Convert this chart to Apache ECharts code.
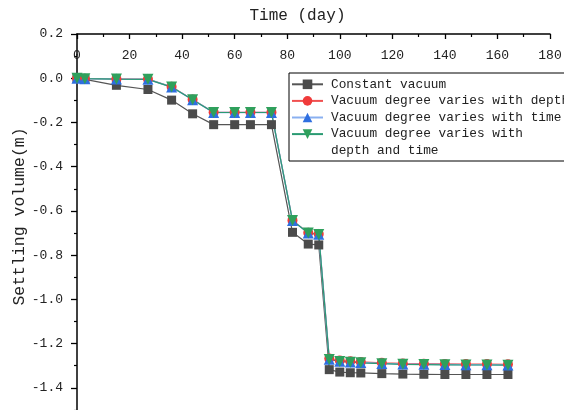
<!DOCTYPE html>
<html>
<head>
<meta charset="utf-8">
<script src="https://cdn.jsdelivr.net/npm/echarts@6/dist/echarts.min.js"></script>
<style>
  html, body { margin: 0; padding: 0; background: #fff; }
  #chart { width: 564px; height: 410px; }
</style>
</head>
<body>
<div id="chart"></div>
<script>
// time (day)
const days = [0, 3, 15, 27, 36, 44, 52, 60, 66, 74, 82, 88, 92, 96, 100, 104, 108, 116, 124, 132, 140, 148, 156, 164]

// settling volume (m)
const constantVacuum = [0, -0.005, -0.032, -0.051, -0.099, -0.161, -0.21, -0.21, -0.21, -0.21, -0.697, -0.75, -0.754,
  -1.318, -1.329, -1.332, -1.333, -1.336, -1.338, -1.339, -1.34, -1.34, -1.34, -1.34]
const variesDepth = [0, -0.002, -0.003, -0.004, -0.039, -0.096, -0.154, -0.154, -0.154, -0.154, -0.643, -0.699, -0.705,
  -1.268, -1.277, -1.280, -1.283, -1.287, -1.290, -1.291, -1.292, -1.293, -1.293, -1.294]
const variesTime = [0, -0.002, -0.004, -0.005, -0.04, -0.097, -0.155, -0.155, -0.155, -0.155, -0.644, -0.70, -0.706,
  -1.271, -1.280, -1.283, -1.286, -1.290, -1.293, -1.294, -1.295, -1.296, -1.296, -1.297]
const variesDepthTime = [0, -0.002, -0.004, -0.005, -0.04, -0.097, -0.155, -0.155, -0.155, -0.155, -0.644, -0.70, -0.707,
  -1.272, -1.281, -1.284, -1.287, -1.291, -1.294, -1.295, -1.296, -1.297, -1.297, -1.298]

const seriesNames = [
  'Constant vacuum',
  'Vacuum degree varies with depth',
  'Vacuum degree varies with time',
  'Vacuum degree varies with depth and time'
]
// the last legend label wraps onto a second row
const legendRows = ['Vacuum degree varies with', 'depth and time']

const font = 'Liberation Mono'
const textColor = '#222'

const pairs = (ys) => days.map((d, i) => [d, ys[i]])

const chart = echarts.init(document.getElementById('chart'))

chart.setOption({
  animation: false,
  grid: {
    left: 77,
    right: 14,
    top: 34,
    height: 398,
    outerBoundsMode: 'none'
  },
  xAxis: {
    type: 'value',
    position: 'top',
    min: 0,
    max: 180,
    interval: 20,
    name: 'Time (day)',
    nameLocation: 'middle',
    nameGap: 10,
    nameMoveOverlap: false,
    nameTextStyle: { fontFamily: font, fontSize: 16, color: textColor, padding: [0, 32, 0, 0] },
    axisLine: { onZero: false, lineStyle: { color: '#000', width: 1.5 } },
    axisTick: { inside: true, length: 5, lineStyle: { color: '#000', width: 1.3 } },
    minorTick: { show: true, splitNumber: 2, length: 3, lineStyle: { color: '#000', width: 1.2 } },
    axisLabel: { inside: true, margin: 15, fontFamily: font, fontSize: 13, color: textColor },
    splitLine: { show: false }
  },
  yAxis: {
    type: 'value',
    min: -1.6,
    max: 0.2,
    interval: 0.2,
    name: 'Settling volume(m)',
    nameLocation: 'middle',
    nameGap: 49,
    nameMoveOverlap: false,
    nameTextStyle: { fontFamily: font, fontSize: 16.5, color: textColor, padding: [0, 0, 0, 33] },
    axisLine: { onZero: false, lineStyle: { color: '#000', width: 1.5 } },
    axisTick: { length: 6, lineStyle: { color: '#000', width: 1.3 } },
    minorTick: { show: true, splitNumber: 2, length: 3, lineStyle: { color: '#000', width: 1.2 } },
    axisLabel: {
      margin: 14,
      fontFamily: font,
      fontSize: 13,
      color: textColor,
      formatter: (v) => v.toFixed(1)
    },
    splitLine: { show: false }
  },
  legend: {
    orient: 'vertical',
    left: 289,
    top: 73,
    padding: [3, 8, 2, 2],
    itemGap: 0,
    itemWidth: 31,
    itemHeight: 12,
    borderColor: '#000',
    borderWidth: 1,
    textStyle: { fontFamily: font, fontSize: 12.8, color: textColor, lineHeight: 16.6, padding: [0, 0, 0, 3] },
    formatter: (name) => name === seriesNames[3] ? legendRows[0] : name,
    data: [seriesNames[0], seriesNames[1], seriesNames[2], seriesNames[3], legendRows[1]]
  },
  series: [
    {
      name: seriesNames[0],
      type: 'line',
      data: pairs(constantVacuum),
      symbol: 'rect',
      symbolSize: 9,
      itemStyle: { color: '#4b4b4b' },
      lineStyle: { color: '#555', width: 1.2 }
    },
    {
      name: seriesNames[1],
      type: 'line',
      data: pairs(variesDepth),
      symbol: 'circle',
      symbolSize: 10,
      itemStyle: { color: '#f03a3a' },
      lineStyle: { color: '#f05050', width: 1.2 }
    },
    {
      name: seriesNames[2],
      type: 'line',
      data: pairs(variesTime),
      symbol: 'triangle',
      symbolSize: 11,
      itemStyle: { color: '#2f6fe0' },
      lineStyle: { color: '#8ab0f0', width: 1.5 }
    },
    {
      name: seriesNames[3],
      type: 'line',
      data: pairs(variesDepthTime),
      symbol: 'triangle',
      symbolRotate: 180,
      symbolSize: 11,
      itemStyle: { color: '#2fa05c' },
      lineStyle: { color: '#2a9a72', width: 1.2 }
    },
    {
      // empty holder for the wrapped second row of the last legend label
      name: legendRows[1],
      type: 'line',
      data: [],
      symbol: 'none',
      lineStyle: { opacity: 0 },
      itemStyle: { opacity: 0 }
    }
  ]
})
</script>
</body>
</html>
